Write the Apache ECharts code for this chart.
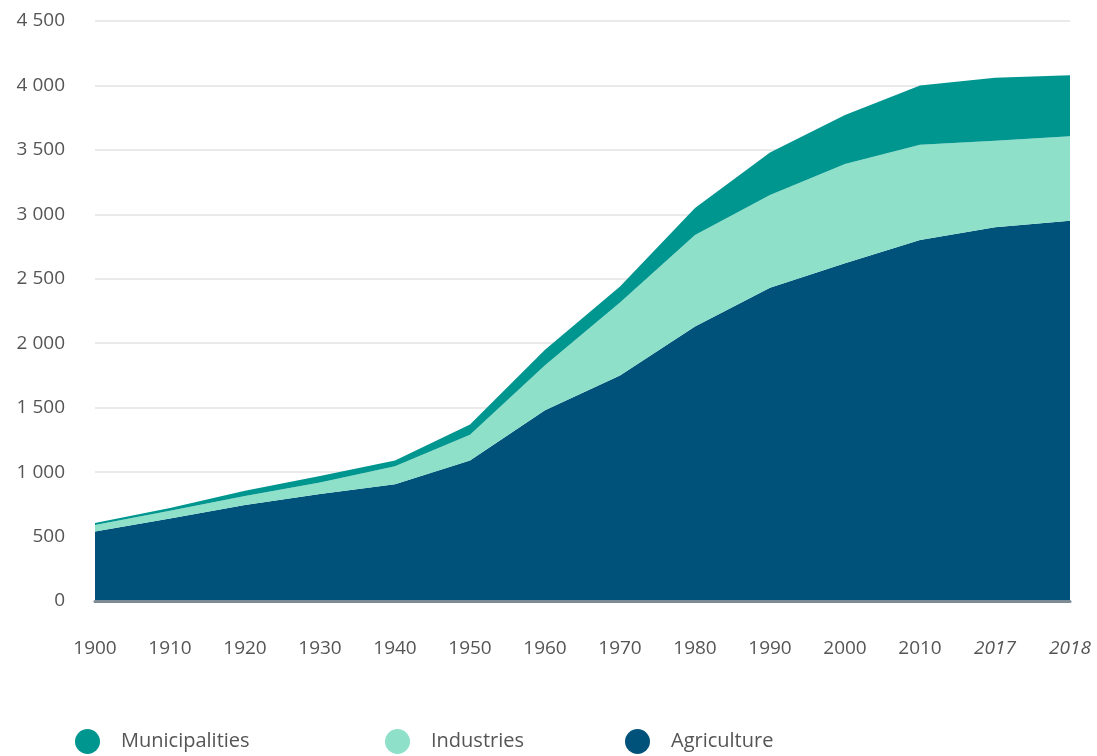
<!DOCTYPE html>
<html>
<head>
<meta charset="utf-8">
<script src="https://cdn.jsdelivr.net/npm/echarts@6/dist/echarts.min.js"></script>
<style>
  html, body { margin: 0; padding: 0; background: #ffffff; }
  #chart { width: 1097px; height: 756px; }
</style>
</head>
<body>
<div id="chart"></div>
<script>
const years = ['1900', '1910', '1920', '1930', '1940', '1950', '1960', '1970', '1980', '1990', '2000', '2010', '2017', '2018'];
const italicYears = ['2017', '2018'];
const agriculture = [540, 640, 745, 830, 905, 1090, 1480, 1750, 2130, 2430, 2620, 2800, 2900, 2950];
const industries = [50, 60, 70, 90, 140, 200, 350, 565, 710, 720, 770, 740, 670, 655];
const municipalities = [15, 22, 40, 50, 45, 80, 120, 125, 210, 330, 380, 460, 490, 475];
const yTicks = [0, 500, 1000, 1500, 2000, 2500, 3000, 3500, 4000, 4500];

const colors = {
  Agriculture: '#00527a',
  Industries: '#8ee0c9',
  Municipalities: '#009690'
};
const FONT = '"Open Sans", "Noto Sans", sans-serif';

function fmtThousands(v) {
  return String(v).replace(/\B(?=(\d{3})+(?!\d))/g, ' ');
}

const chart = echarts.init(document.getElementById('chart'), null, { renderer: 'canvas' });

function legendAt(name, left) {
  return {
    data: [name],
    left: left,
    top: 729,
    padding: 0,
    icon: 'circle',
    itemWidth: 25,
    itemHeight: 25,
    selectedMode: false,
    textStyle: { color: '#555', fontSize: 20, fontFamily: FONT, padding: [0, 0, 0, 16] }
  };
}

const option = {
  animation: false,
  backgroundColor: '#ffffff',
  grid: { left: 95, right: 27, top: 21, bottom: 155, containLabel: false },
  legend: [
    legendAt('Municipalities', 75),
    legendAt('Industries', 385),
    legendAt('Agriculture', 625)
  ],
  xAxis: {
    type: 'category',
    boundaryGap: false,
    z: 5,
    data: years.map(y => italicYears.includes(y) ? { value: y, textStyle: { fontStyle: 'italic' } } : y),
    axisLine: { show: true, lineStyle: { color: '#7d8b95', width: 3 } },
    axisTick: { show: false },
    axisLabel: { color: '#555', fontSize: 19, fontFamily: FONT, margin: 38 },
    splitLine: { show: false }
  },
  yAxis: {
    type: 'value',
    min: yTicks[0],
    max: yTicks[yTicks.length - 1],
    interval: yTicks[1] - yTicks[0],
    axisLine: { show: false },
    axisTick: { show: false },
    axisLabel: { color: '#555', fontSize: 19, fontFamily: FONT, margin: 30, formatter: v => fmtThousands(v) },
    splitLine: { show: true, lineStyle: { color: '#e3e3e3', width: 1.5 } }
  },
  series: [
    { name: 'Agriculture', data: agriculture },
    { name: 'Industries', data: industries },
    { name: 'Municipalities', data: municipalities }
  ].map(s => ({
    name: s.name,
    type: 'line',
    stack: 'total',
    data: s.data,
    symbol: 'none',
    smooth: false,
    color: colors[s.name],
    lineStyle: { width: 0 },
    areaStyle: { color: colors[s.name], opacity: 1 }
  }))
};

chart.setOption(option);
</script>
</body>
</html>
